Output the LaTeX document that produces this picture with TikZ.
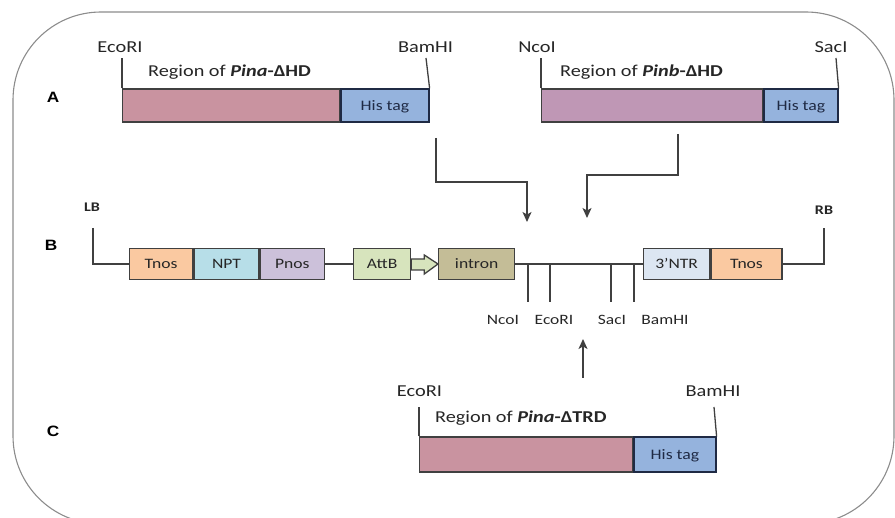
\documentclass[tikz,border=0pt]{standalone}
\usepackage{fontspec}
\setmainfont[FakeStretch=1.22]{Carlito}
\newfontfamily\panelfont[FakeStretch=1.15]{Liberation Sans}
\usetikzlibrary{arrows.meta,calc}

% fills of the gene segments
\definecolor{pinA}{HTML}{C993A0}
\definecolor{pinB}{HTML}{BF97B5}
\definecolor{hisTag}{HTML}{95B3DD}
\definecolor{tnosC}{HTML}{FAC9A1}
\definecolor{nptC}{HTML}{B7DEE8}
\definecolor{pnosC}{HTML}{CCC1DA}
\definecolor{attbC}{HTML}{D7E4BD}
\definecolor{intronC}{HTML}{C4BD97}
\definecolor{ntrC}{HTML}{DCE6F2}
\definecolor{edgeC}{HTML}{404040}
\definecolor{tagEdge}{HTML}{1F2A44}
\definecolor{frameC}{HTML}{8C8C8C}
\definecolor{inkC}{HTML}{262626}

\tikzset{
  seg/.style={draw=edgeC, line width=1.3pt, inner sep=0pt, anchor=west,
              minimum height=33pt},
  tagseg/.style={seg, draw=tagEdge, fill=hisTag, text=tagEdge,
                 font=\fontsize{14.5}{17}\selectfont,
                 text height=9.3pt, text depth=0pt},
  part/.style={draw=edgeC, line width=1.3pt, inner sep=0pt, anchor=west,
               minimum height=31pt, text=inkC,
               font=\fontsize{14.4}{17}\selectfont,
               text height=9.3pt, text depth=0pt},
  conn/.style={draw=edgeC, line width=1.3pt},
  arr/.style={conn, -{Stealth[length=10pt,width=9pt,inset=2.5pt]}},
  sitelbl/.style={anchor=base, inner sep=0pt, text=inkC,
                  font=\fontsize{16.7}{20}\selectfont},
  cutlbl/.style={anchor=base, inner sep=0pt, text=inkC,
                 font=\fontsize{14.3}{17}\selectfont},
  regionlbl/.style={anchor=base west, inner sep=0pt, text=inkC,
                    font=\fontsize{16.6}{20}\selectfont},
  borderlbl/.style={anchor=base, inner sep=0pt, text=inkC,
                    font=\fontsize{13.2}{16}\selectfont\bfseries},
  panellbl/.style={anchor=base, inner sep=0pt, text=black,
                   font=\fontsize{15}{18}\selectfont\panelfont\bfseries}
}

\begin{document}
\begin{tikzpicture}[x=1pt,y=-1pt]
\useasboundingbox (0,0) rectangle (895,518);

% outer frame
\draw[frameC, line width=1.1pt, rounded corners=88pt] (13,12) rectangle (894,524);

% panel letters
\node[panellbl] (pA) at (53,103) {A};
\node[panellbl] (pB) at (51,251) {B};
\node[panellbl] (pC) at (53,437) {C};

% ---------- A: Pina-deltaHD ----------
\node[seg, fill=pinA, minimum width=217pt] (aReg) at (122,105.5) {};
\node[tagseg, minimum width=88pt] (aTag) at (aReg.east) {His tag};
\coordinate (aEco) at (122,58);
\coordinate (aBam) at (426,58);
\draw[conn] (aReg.north west) -- (aEco);
\draw[conn] (aTag.north east) -- (aBam);
\node[sitelbl] (aEcoL) at (120,53) {EcoRI};
\node[sitelbl] (aBamL) at (425.5,53) {BamHI};
\node[regionlbl] (aTxt) at (148,77) {Region of \textbf{\textit{Pina}-ΔHD}};

% ---------- A: Pinb-deltaHD ----------
\node[seg, fill=pinB, minimum width=221pt] (bReg) at (541,105.5) {};
\node[tagseg, minimum width=74pt] (bTag) at (bReg.east) {His tag};
\coordinate (bNco) at (541,58);
\coordinate (bSac) at (836,58);
\draw[conn] (bReg.north west) -- (bNco);
\draw[conn] (bTag.north east) -- (bSac);
\node[sitelbl] (bNcoL) at (537,53) {NcoI};
\node[sitelbl] (bSacL) at (831,53) {SacI};
\node[regionlbl] (bTxt) at (560,77) {Region of \textbf{\textit{Pinb}-ΔHD}};

% insertion arrows from panel A
\coordinate (aOut) at (436,138);
\coordinate (aIn) at (527,222);
\draw[arr] (aOut) -- ++(0,44) -| (aIn);
\coordinate (bOut) at (678,134);
\coordinate (bIn) at (587,218);
\draw[arr] (bOut) -- ++(0,41) -| (bIn);

% ---------- B: T-DNA vector ----------
\node[part, fill=tnosC, minimum width=63pt] (tnos1) at (129,264) {Tnos};
\node[part, fill=nptC, minimum width=65pt] (npt) at (tnos1.east) {NPT};
\node[part, fill=pnosC, minimum width=64pt] (pnos) at (npt.east) {Pnos};
\node[part, fill=attbC, minimum width=57pt] (attb) at (353,264) {AttB};
\node[part, fill=intronC, minimum width=76pt] (intron) at (438,264) {intron};
\node[part, fill=ntrC, minimum width=66pt] (ntr) at (643,264) {3’NTR};
\node[part, fill=tnosC, minimum width=71pt] (tnos2) at (ntr.east) {Tnos};

% left and right borders
\coordinate (lbTop) at (93,228);
\coordinate (rbTop) at (824,228);
\draw[conn] (lbTop) |- (tnos1.west);
\draw[conn] (tnos2.east) -| (rbTop);
\node[borderlbl] (lbL) at (92,212) {LB};
\node[borderlbl] (rbL) at (824,215) {RB};

% backbone
\draw[conn] (pnos.east) -- (attb.west);
\draw[conn] (intron.east) -- (ntr.west);

% hollow arrow joining AttB and intron
\draw[draw=edgeC, line width=1.3pt, fill=attbC, line join=miter]
  ($(attb.east)+(0,-5)$) -- ++(13,0) -- ++(0,-4) -- (intron.west)
  -- ($(attb.east)+(13,10)$) -- ++(0,-4) -- ($(attb.east)+(0,6)$) -- cycle;

% cloning sites
\coordinate (sNco) at (528,264);
\coordinate (sEco) at (550,264);
\coordinate (sSac) at (611,264);
\coordinate (sBam) at (634,264);
\draw[conn] (sNco) -- ++(0,38);
\draw[conn] (sEco) -- ++(0,38);
\draw[conn] (sSac) -- ++(0,38);
\draw[conn] (sBam) -- ++(0,38);
\node[cutlbl] (sNcoL) at (503,325) {NcoI};
\node[cutlbl] (sEcoL) at (554,325) {EcoRI};
\node[cutlbl] (sSacL) at (612,325) {SacI};
\node[cutlbl] (sBamL) at (665,325) {BamHI};

% insertion arrow from panel C
\coordinate (cOut) at (583,378);
\coordinate (cIn) at (583,339);
\draw[arr] (cOut) -- (cIn);

% ---------- C: Pina-deltaTRD ----------
\node[seg, fill=pinA, minimum width=213pt, minimum height=35pt] (cReg) at (419,454.5) {};
\node[tagseg, minimum width=82pt, minimum height=35pt] (cTag) at (cReg.east) {His tag};
\coordinate (cEco) at (419,407);
\coordinate (cBam) at (714,407);
\draw[conn] (cReg.north west) -- (cEco);
\draw[conn] (cTag.north east) -- (cBam);
\node[sitelbl] (cEcoL) at (419.5,397) {EcoRI};
\node[sitelbl] (cBamL) at (713,397) {BamHI};
\node[regionlbl] (cTxt) at (435,423) {Region of \textbf{\textit{Pina}-ΔTRD}};
\end{tikzpicture}
\end{document}
